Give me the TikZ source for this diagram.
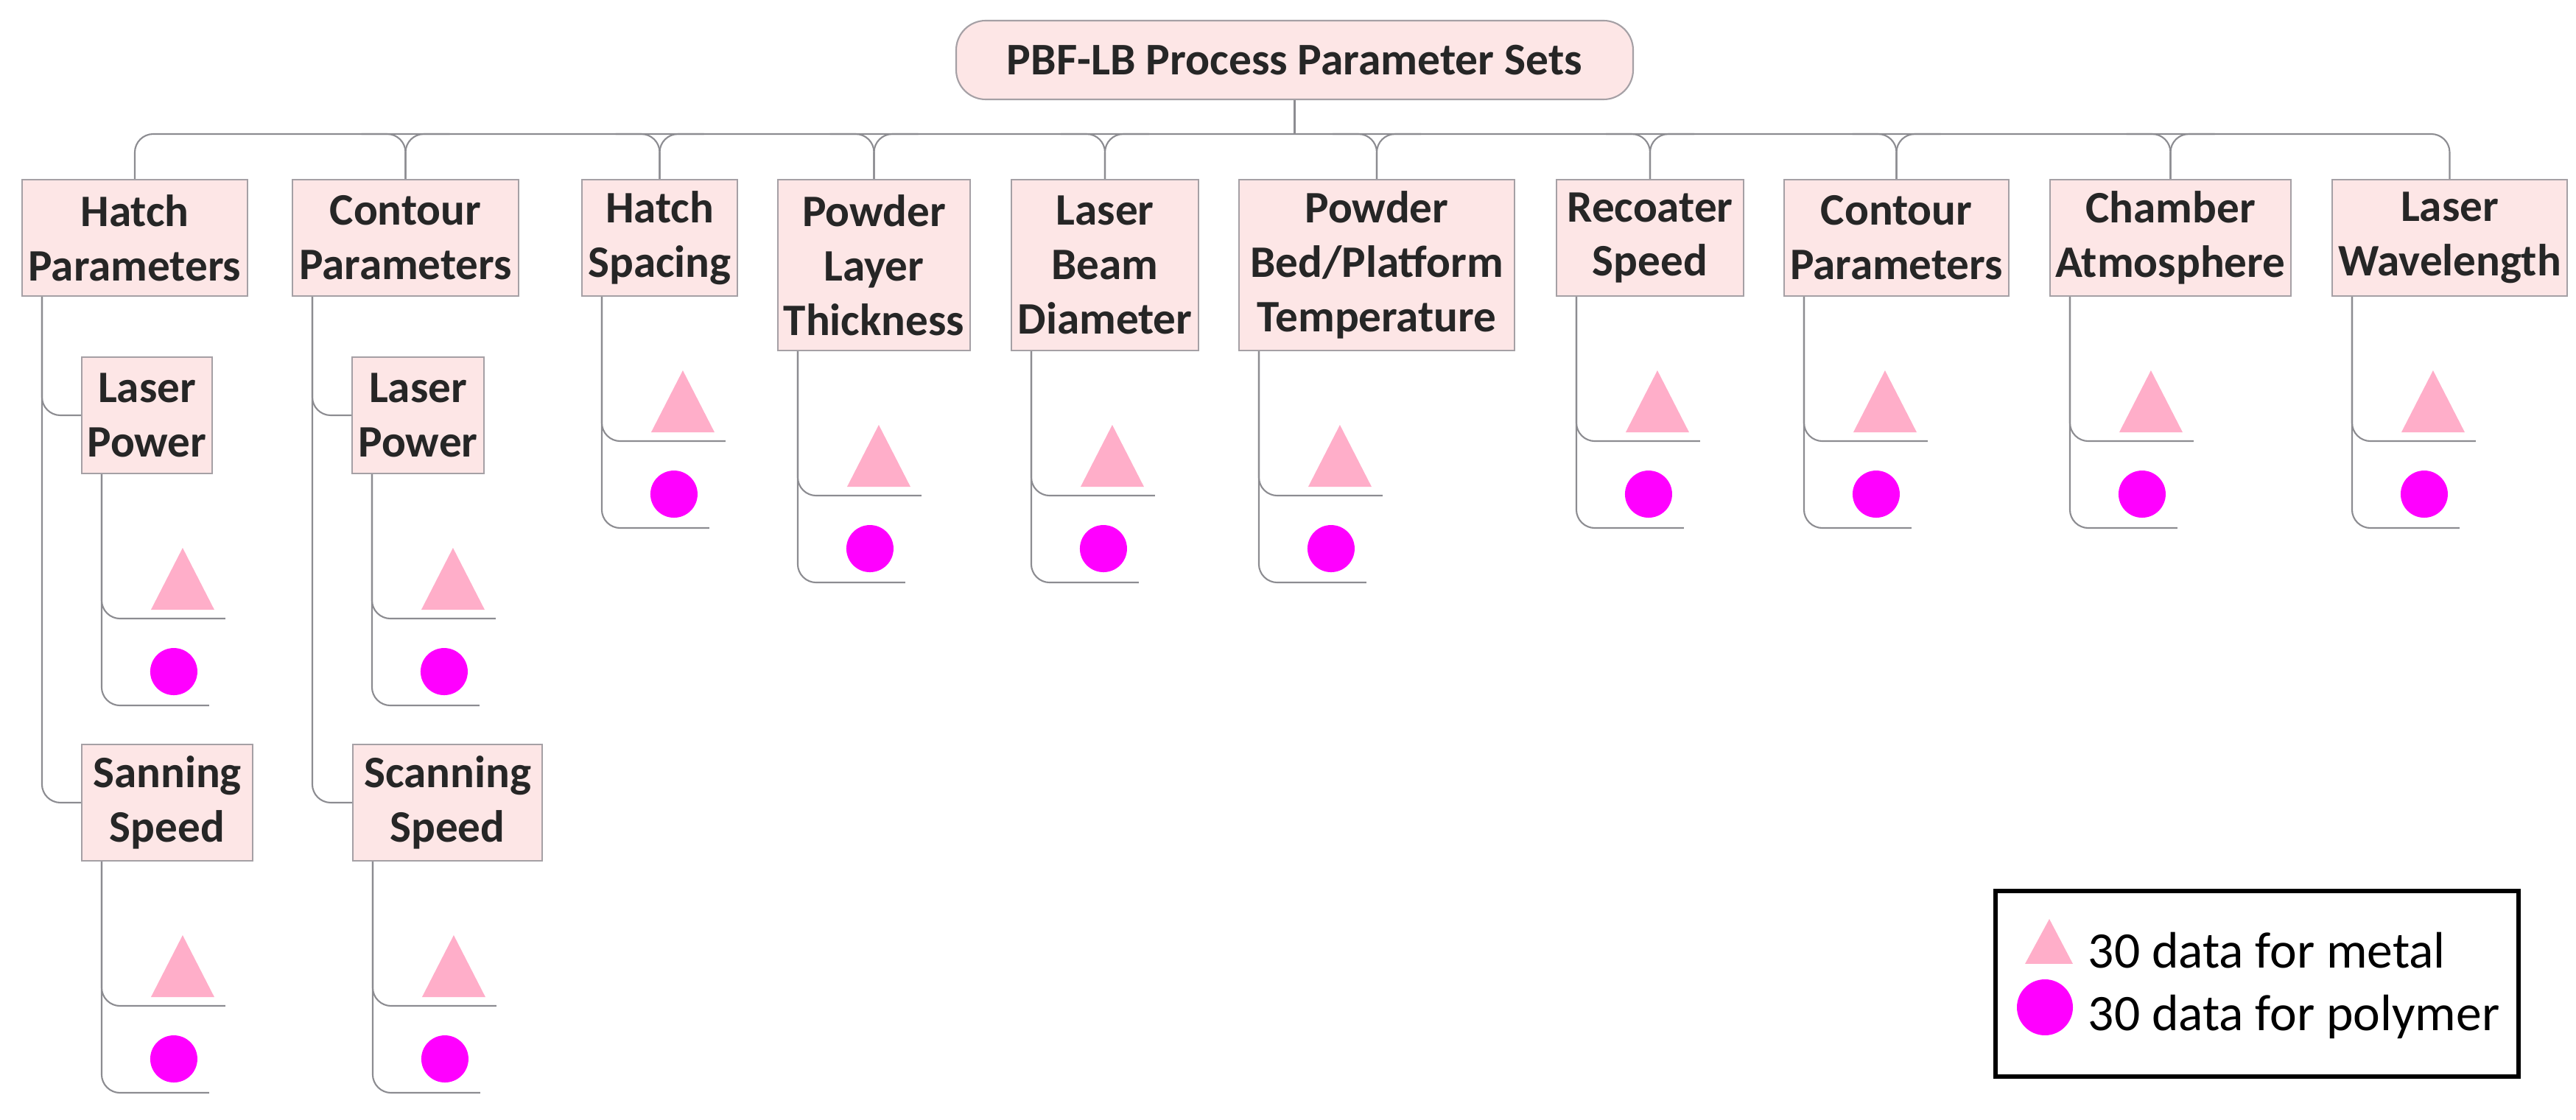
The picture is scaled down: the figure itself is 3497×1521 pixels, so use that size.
\documentclass[tikz,border=0pt]{standalone}
\usepackage{fontspec}
\setmainfont{Carlito}
\usetikzlibrary{calc}
\definecolor{boxfill}{RGB}{253,230,230}
\definecolor{boxline}{RGB}{165,160,165}
\definecolor{conncol}{RGB}{140,140,145}
\definecolor{tricol}{RGB}{255,174,201}
\definecolor{magcol}{RGB}{255,0,255}
\definecolor{txtcol}{RGB}{38,38,38}
\newcommand\leafgroup[1]{%
  \coordinate (#1-v) at ($(#1.south west)+(28,0)$);
  \coordinate (#1-e1) at ($(#1-v)+(168,196)$);
  \coordinate (#1-e2) at ($(#1-v)+(146,314)$);
  \draw[conn] (#1-v) |- (#1-e1);
  \draw[conn] (#1-v) |- (#1-e2);
  \fill[tricol] ($(#1-v)+(67,184)$) -- ($(#1-v)+(153,184)$) -- ($(#1-v)+(110,100)$) -- cycle;
  \fill[magcol] ($(#1-v)+(98,268)$) circle[radius=3.2mm];
}
\begin{document}
\begin{tikzpicture}[x=0.1mm,y=-0.1mm,
  box/.style={draw=boxline, fill=boxfill, line width=0.6pt, inner sep=0pt, align=center,
    text=txtcol, font=\bfseries\fontsize{17.4}{21}\selectfont, minimum height=15.8mm},
  tallbox/.style={box, minimum height=23.2mm},
  rootbox/.style={draw=boxline, fill=boxfill, line width=0.6pt, rounded corners=4mm, inner sep=0pt,
    text=txtcol, font=\bfseries\fontsize{17.5}{21}\selectfont, minimum width=91.9mm, minimum height=10.7mm},
  conn/.style={draw=conncol, line width=0.6pt, rounded corners=2.5mm},
  legtext/.style={anchor=base west, inner sep=0pt, font=\fontsize{19.8}{24}\selectfont}
]
\useasboundingbox (0,0) rectangle (3497,1521);

% root
\node[rootbox] (root) at (1757.5,81.5) {PBF-LB Process Parameter Sets};

% level 1
\node[box, minimum width=30.6mm] (H1) at (183,323) {Hatch\\Parameters};
\node[box, minimum width=30.7mm] (C1) at (550.5,323) {Contour\\Parameters};
\node[box, minimum width=21.1mm] (HS) at (895.5,323) {Hatch\\Spacing};
\node[tallbox, minimum width=26.1mm] (PLT) at (1186.5,360) {Powder\\Layer\\Thickness};
\node[tallbox, minimum width=25.4mm] (LBD) at (1500,360) {Laser\\Beam\\Diameter};
\node[tallbox, minimum width=37.4mm] (PBT) at (1869,360) {Powder\\Bed/Platform\\Temperature};
\node[box, minimum width=25.4mm] (RS) at (2240,323) {Recoater\\Speed};
\node[box, minimum width=30.5mm] (CP2) at (2574.5,323) {Contour\\Parameters};
\node[box, minimum width=32.7mm] (CA) at (2946.5,323) {Chamber\\Atmosphere};
\node[box, minimum width=31.9mm] (LW) at (3325.5,323) {Laser\\Wavelength};

% level 2
\node[box, minimum width=17.7mm] (LP1) at (199.5,564) {Laser\\Power};
\node[box, minimum width=17.9mm] (LP2) at (567.5,564) {Laser\\Power};
\node[box, minimum width=23.2mm] (SS1) at (227,1090) {Sanning\\Speed};
\node[box, minimum width=25.7mm] (SS2) at (607.5,1090) {Scanning\\Speed};

% root to bus
\coordinate (bus) at (1757.5,182);
\draw[conn] (root.south) -- (bus);
\draw[conn] (H1.north) -- (H1.north |- bus) -- (LW.north |- bus) -- (LW.north);
\foreach \n in {C1,HS,PLT,LBD,PBT,RS,CP2,CA}{
  \draw[conn] (\n.north) -- (\n.north |- bus) -- ++(-60,0);
  \draw[conn] (\n.north) -- (\n.north |- bus) -- ++(60,0);
}

% hatch / contour sub-branches
\coordinate (H1-v) at ($(H1.south west)+(28,0)$);
\draw[conn] (H1-v) |- (LP1.west);
\draw[conn] (H1-v) |- (SS1.west);
\coordinate (C1-v) at ($(C1.south west)+(28,0)$);
\draw[conn] (C1-v) |- (LP2.west);
\draw[conn] (C1-v) |- (SS2.west);

% leaves
\foreach \n in {LP1,LP2,SS1,SS2,HS,PLT,LBD,PBT,RS,CP2,CA,LW}{\leafgroup{\n}}

% legend
\node[draw=black, line width=1.55pt, minimum width=71mm, minimum height=25.2mm, inner sep=0pt] (legend) at (3064,1336) {};
\fill[tricol] (2749,1309) -- (2814,1309) -- (2782,1248) -- cycle;
\fill[magcol] (2776,1368) circle[radius=3.8mm];
\node[legtext] (lmetal) at (2834,1315) {30 data for metal};
\node[legtext] (lpoly) at (2834,1400) {30 data for polymer};
\end{tikzpicture}
\end{document}
